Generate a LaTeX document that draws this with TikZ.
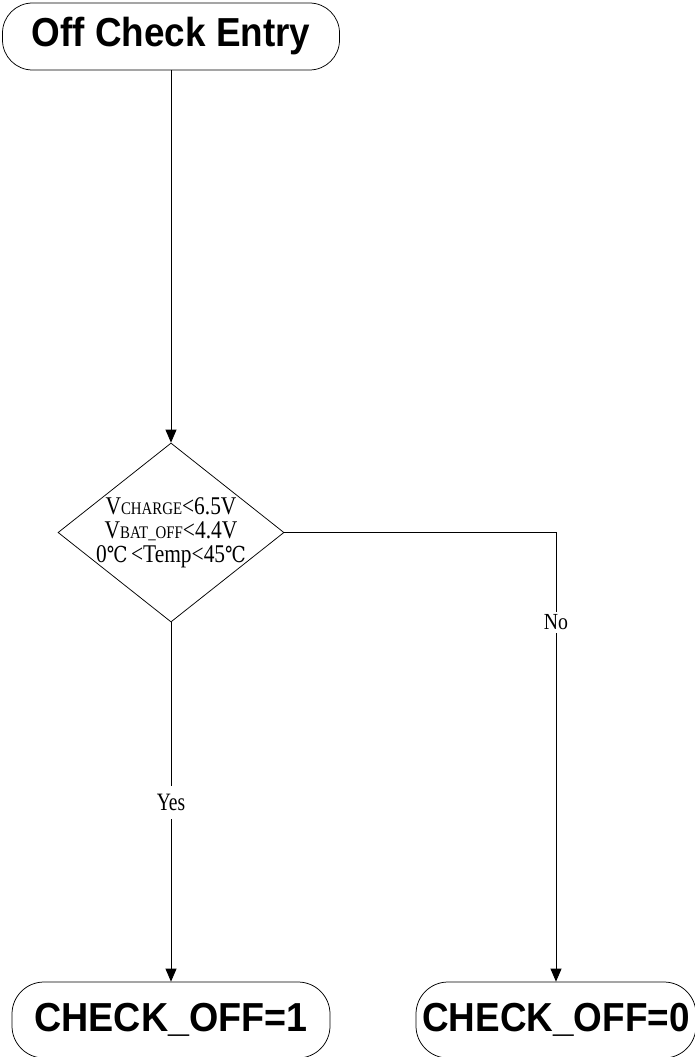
\documentclass[tikz,border=0pt]{standalone}
\usepackage{fontspec}
\usepackage{graphicx}
\setmainfont{Liberation Serif}
\setsansfont{Liberation Sans}
\newfontfamily\degfont{DejaVu Serif}
\usetikzlibrary{arrows.meta,shapes.geometric}
\newcommand\hsq[2]{\scalebox{#1}[1]{#2}}
\newcommand\sm[1]{{\fontsize{17.7}{17.7}\selectfont #1}}
\newcommand\degc{{\degfont\fontsize{22}{22}\selectfont ℃}}
\begin{document}
\begin{tikzpicture}[x=1pt,y=-1pt,
  line/.style={line width=0.75pt,draw=black},
  arr/.style={line, -{Triangle[length=13pt,width=11pt]}},
  term/.style={draw=black,line width=0.75pt,rectangle,rounded corners=30pt,inner sep=0pt,
    font=\sffamily\bfseries\fontsize{40.5}{40.5}\selectfont},
  dec/.style={draw=black,line width=0.75pt,diamond,inner sep=0pt,
    minimum width=226pt,minimum height=179pt},
  condtxt/.style={align=center,inner sep=0pt,font=\fontsize{25.5}{24}\selectfont},
  lbl/.style={fill=white,inner sep=0pt}
]
\useasboundingbox (0,0) rectangle (694,1057);

\node[term,minimum width=337pt,minimum height=67pt] (entry) at (171,36.5) {\hsq{0.91}{Off Check Entry}};
\node[dec] (cond) at (171,532.5) {};
\node[condtxt] (condtext) at (cond.center) {%
  \hsq{0.84}{V\sm{CHARGE}<6.5V}\\
  \hsq{0.84}{V\sm{BAT\_OFF}<4.4V}\\
  \hsq{0.84}{0\degc\,<Temp<45\degc}};
\node[term,minimum width=318pt,minimum height=76pt,rounded corners=32pt] (one) at (171,1020) {\hsq{0.93}{CHECK\_OFF=1}};
\node[term,minimum width=280pt,minimum height=76pt,rounded corners=32pt] (zero) at (556,1020) {\hsq{0.91}{CHECK\_OFF=0}};

\draw[arr] (entry.south) -- (cond.north);
\draw[arr] (cond.south) -- node[lbl,minimum height=33pt,font=\fontsize{25}{25}\selectfont] (yes) {\hsq{0.78}{Yes}} (one.north);
\draw[arr] (cond.east) -| node[lbl,pos=0.6,minimum height=21pt,font=\fontsize{23}{23}\selectfont] (no) {\hsq{0.86}{No}} (zero.north);
\end{tikzpicture}
\end{document}
